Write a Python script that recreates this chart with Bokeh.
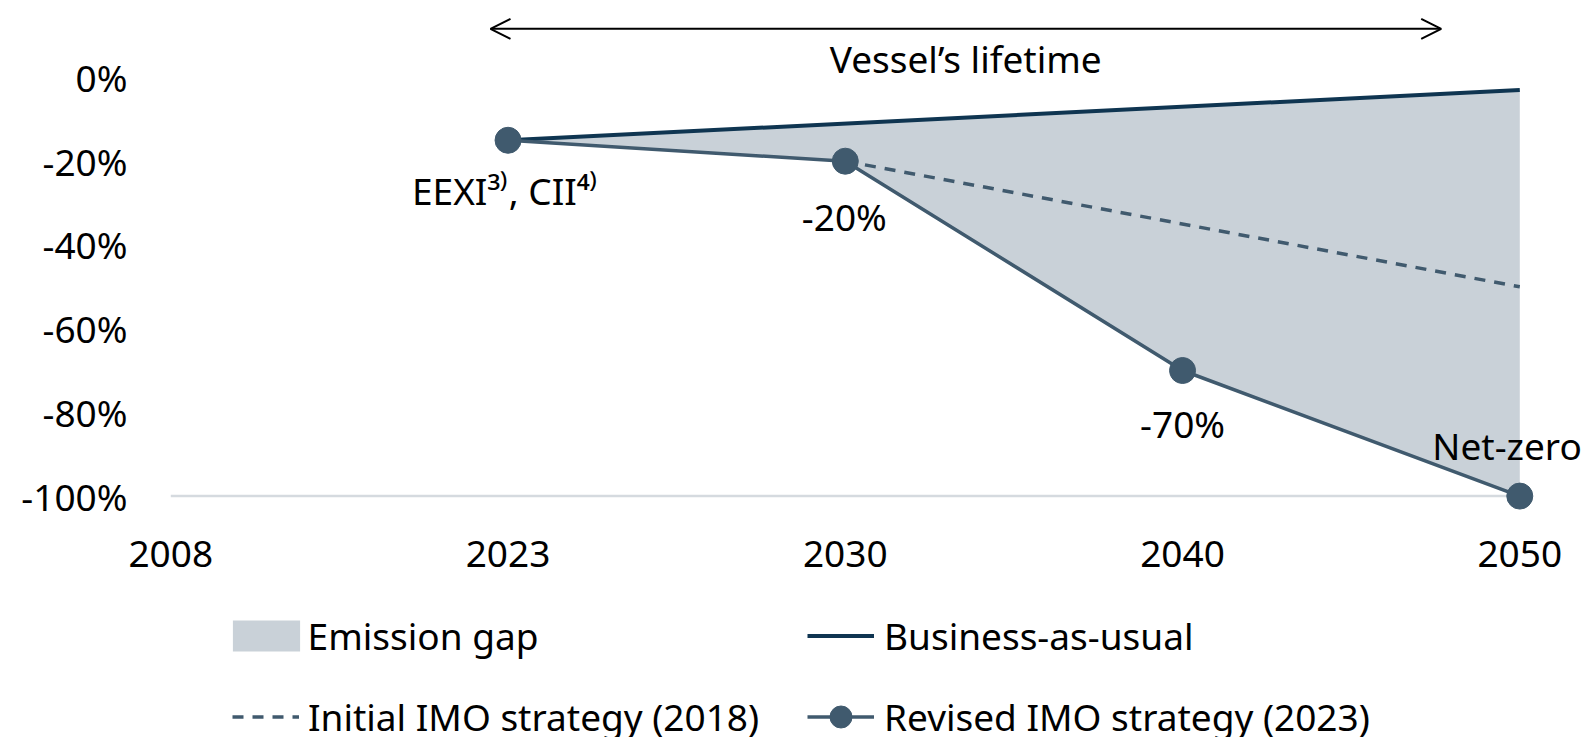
from bokeh.plotting import figure
from bokeh.layouts import column
from bokeh.models import (Range1d, FixedTicker, Legend, LegendItem, Arrow, OpenHead,
                          Label, ColumnDataSource)
from bokeh.embed import file_html
from bokeh.resources import INLINE

# ---------------- data ----------------
years = ["2008", "2023", "2030", "2040", "2050"]
y_ticks = [0, -20, -40, -60, -80, -100]
y_tick_labels = ["0%", "-20%", "-40%", "-60%", "-80%", "-100%"]

bau_years = ["2023", "2050"]
bau_values = [-15, -3]

initial_years = ["2030", "2050"]
initial_values = [-20, -50]

revised_years = ["2023", "2030", "2040", "2050"]
revised_values = [-15, -20, -70, -100]
revised_labels = ["EEXI³⁾, CII⁴⁾", "-20%", "-70%", "Net-zero"]

lifetime_text = "Vessel’s lifetime"
legend_labels = ["Emission gap", "Business-as-usual",
                 "Initial IMO strategy (2018)", "Revised IMO strategy (2023)"]

# ---------------- styles ----------------
FONT = "Noto Sans"
FS = "37px"
C_FILL = "#c9d1d8"
C_BAU = "#0f3551"
C_REV = "#405a6e"
C_GRID = "#d5dadf"
W = 1586
H_MAIN = 605
H_LEG = 132
LEFT = 148

idx = {y: i for i, y in enumerate(years)}
bx = [idx[y] for y in bau_years]
ix = [idx[y] for y in initial_years]
rx = [idx[y] for y in revised_years]
gap_x = bx + rx[::-1]
gap_y = bau_values + revised_values[::-1]

p = figure(width=W, height=H_MAIN, output_backend="svg", toolbar_location=None,
           x_range=Range1d(-0.0661, 4.1978), y_range=Range1d(-104.16, 18.39),
           min_border_left=LEFT, min_border_right=0, min_border_top=0,
           min_border_bottom=H_MAIN - 513)
p.outline_line_color = None
p.xgrid.visible = False
p.ygrid.visible = False

# axes
p.yaxis.ticker = FixedTicker(ticks=y_ticks)
p.yaxis.major_label_overrides = {t: l for t, l in zip(y_ticks, y_tick_labels)}
p.xaxis.ticker = FixedTicker(ticks=list(range(len(years))))
p.xaxis.major_label_overrides = {i: y for i, y in enumerate(years)}
for ax in (p.xaxis, p.yaxis):
    ax.axis_line_color = None
    ax.major_tick_line_color = None
    ax.minor_tick_line_color = None
    ax.major_tick_out = 0
    ax.major_tick_in = 0
    ax.major_label_text_font = FONT
    ax.major_label_text_font_size = FS
    ax.major_label_text_color = "black"
p.yaxis.major_label_standoff = 21
p.xaxis.major_label_standoff = 27

# baseline at -100%
p.segment(x0=[0], x1=[len(years) - 1], y0=[min(y_ticks)], y1=[min(y_ticks)],
          line_color=C_GRID, line_width=2.5)


def draw_series(fig, size):
    g = fig.patch(gap_x, gap_y, fill_color=C_FILL, line_color=None)
    b = fig.line(bx, bau_values, line_color=C_BAU, line_width=4)
    i = fig.line(ix, initial_values, line_color=C_REV, line_width=3.5, line_dash="11 9")
    rl = fig.line(rx, revised_values, line_color=C_REV, line_width=3.5)
    rs = fig.scatter(rx, revised_values, size=size, fill_color=C_REV, line_color=C_REV)
    return g, b, i, rl, rs


draw_series(p, 26)

# point labels
dx = [-96, -1, 0, 62]
dy = [50, 55, 53, -51]
align = ["left", "center", "center", "right"]
src = ColumnDataSource(dict(x=rx, y=revised_values, text=revised_labels,
                            dx=dx, dy=dy, align=align))
p.text(x="x", y="y", text="text", x_offset="dx", y_offset="dy", text_align="align",
       text_baseline="middle", text_font={"value": FONT}, text_font_size={"value": FS},
       text_color="black", source=src)

# lifetime arrow
p.add_layout(Arrow(start=OpenHead(size=20, line_width=2, line_color="black"),
                   end=OpenHead(size=20, line_width=2, line_color="black"),
                   x_start=0.948, x_end=3.767, y_start=11.63, y_end=11.63,
                   line_width=2, line_color="black"))
p.add_layout(Label(x=2.357, y=4.58, text=lifetime_text, text_align="center",
                   text_baseline="middle", text_font=FONT, text_font_size=FS,
                   text_color="black"))

# ---------------- legend strip ----------------
# the series are drawn again here, outside this strip's visible range,
# only so that the legend entries have renderers of this figure
q = figure(width=W, height=H_LEG, output_backend="svg", toolbar_location=None,
           x_range=Range1d(1000, 1001), y_range=Range1d(1000, 1001),
           x_axis_type=None, y_axis_type=None,
           min_border_left=LEFT, min_border_right=0, min_border_top=0,
           min_border_bottom=0)
q.outline_line_color = None
q.xgrid.visible = False
q.ygrid.visible = False

lg_gap, lg_bau, lg_init, lg_rev_l, lg_rev_s = draw_series(q, 22)


def add_legend(label, renderers, x, y_center, gw, gh, standoff):
    lg = Legend(items=[LegendItem(label=label, renderers=renderers)],
                location=(x - LEFT, y_center - gh / 2),
                padding=0, margin=0, spacing=0, border_line_color=None,
                background_fill_alpha=0, glyph_width=gw, glyph_height=gh,
                label_height=gh, label_standoff=standoff, label_text_font=FONT,
                label_text_font_size=FS, label_text_color="black")
    q.add_layout(lg)


ROW1 = 96.0   # legend row centres, px up from the strip's bottom
ROW2 = 20.5
add_legend(legend_labels[0], [lg_gap], 223.6, ROW1, 84, 39, 0)
add_legend(legend_labels[1], [lg_bau], 807, ROW1, 67, 39, 10)
add_legend(legend_labels[2], [lg_init], 232, ROW2, 67, 55, 9)
add_legend(legend_labels[3], [lg_rev_l, lg_rev_s], 807, ROW2, 67, 55, 10)

layout = column(p, q, spacing=0)
open("out.html", "w").write(file_html(layout, INLINE))
